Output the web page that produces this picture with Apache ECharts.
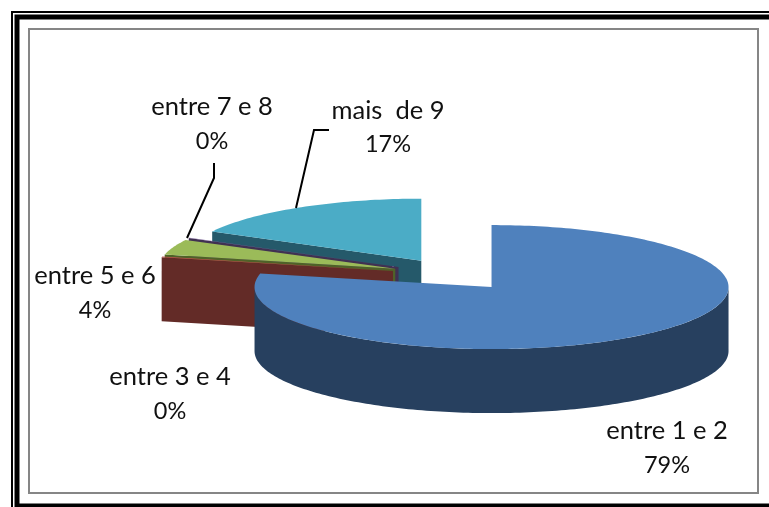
<!DOCTYPE html>
<html>
<head>
<meta charset="utf-8">
<title>pie</title>
<style>
  html, body { margin: 0; padding: 0; background: #fff; }
  #chart { width: 769px; height: 507px; }
</style>
<script src="https://cdn.jsdelivr.net/npm/echarts@6/dist/echarts.min.js"></script>
</head>
<body>
<div id="chart"></div>
<script>
// values
var categories = ['entre 1 e 2', 'entre 3 e 4', 'entre 5 e 6', 'entre 7 e 8', 'mais  de 9'];
var values = [78.5, 0.2, 4, 0.1, 17.2];

var topColors = ['#4f81bd', '#c0504d', '#9bbb59', '#8064a2', '#4bacc6'];
var sideColors = ['#27405f', '#632b27', '#4f6228', '#403152', '#25596a'];

// label centres, x then the y of each of the two lines
var labelX = [667, 170, 95, 212, 388];
var labelY1 = [431, 377, 276, 107, 111];
var labelY2 = [465, 411, 310, 141, 144];

// pie geometry
var cx = 453, cy = 274.5, rx = 237, ry = 62, depth = 64, explode = 0.26;

var total = 0;
for (var i = 0; i < values.length; i++) total += values[i];

function pt(c, t, dy) {
  return [c[0] + rx * Math.sin(t), c[1] - ry * Math.cos(t) + (dy || 0)];
}

function arc(c, a, b, dy) {
  var pts = [], n = Math.max(2, Math.ceil((b - a) / 0.02));
  for (var k = 0; k <= n; k++) pts.push(pt(c, a + (b - a) * k / n, dy));
  return pts;
}

function wall(pts, color, z) {
  return { type: 'polygon', z2: z, shape: { points: pts }, style: { fill: color } };
}

function renderSlice(params, api) {
  var idx = params.dataIndex, before = 0;
  for (var j = 0; j < idx; j++) before += values[j];
  var a = before / total * Math.PI * 2;
  var b = a + api.value(0) / total * Math.PI * 2;
  var mid = (a + b) / 2;
  var c = [cx + explode * rx * Math.sin(mid), cy - explode * ry * Math.cos(mid)];
  var z = (values.length - idx) * 10;
  var side = sideColors[idx];
  var children = [];

  // radial wall facing the viewer
  if (a > Math.PI && a < Math.PI * 2) {
    children.push(wall([c, pt(c, a), pt(c, a, depth), [c[0], c[1] + depth]], side, z));
  }
  if (b > 0 && b < Math.PI) {
    children.push(wall([c, pt(c, b), pt(c, b, depth), [c[0], c[1] + depth]], side, z));
  }
  // outer wall, front half only
  var from = Math.max(a, Math.PI / 2), to = Math.min(b, Math.PI * 1.5);
  if (to > from) {
    children.push(wall(arc(c, from, to, 0).concat(arc(c, from, to, depth).reverse()), side, z + 1));
  }
  // top
  children.push(wall([c].concat(arc(c, a, b, 0)), topColors[idx], z + 2));

  return { type: 'group', children: children };
}

var graphics = [
  // frame
  { type: 'rect', shape: { x: 12, y: 12, width: 780, height: 520 }, style: { fill: 'none', stroke: '#000', lineWidth: 2 } },
  { type: 'rect', shape: { x: 17, y: 17, width: 780, height: 489 }, style: { fill: 'none', stroke: '#000', lineWidth: 5 } },
  { type: 'rect', shape: { x: 29, y: 29, width: 729, height: 464 }, style: { fill: 'none', stroke: '#868686', lineWidth: 2 } },
  // leader lines
  { type: 'polyline', z: 5, shape: { points: [[329, 130], [314, 130], [296, 208]] }, style: { fill: 'none', stroke: '#000', lineWidth: 2 } },
  { type: 'polyline', z: 5, shape: { points: [[214, 163], [214, 178], [187, 238]] }, style: { fill: 'none', stroke: '#000', lineWidth: 2 } }
];

categories.forEach(function (name, i) {
  graphics.push({ type: 'text', z: 5, x: labelX[i], y: labelY1[i],
    style: { text: name, textAlign: 'center', textVerticalAlign: 'middle', fill: '#111', font: '25.5px Lato' } });
  graphics.push({ type: 'text', z: 5, x: labelX[i], y: labelY2[i],
    style: { text: Math.round(values[i]) + '%', textAlign: 'center', textVerticalAlign: 'middle', fill: '#111', font: '23.5px Lato' } });
});

var chart = echarts.init(document.getElementById('chart'));
chart.setOption({
  animation: false,
  backgroundColor: '#fff',
  graphic: graphics,
  series: [{
    type: 'custom',
    coordinateSystem: 'none',
    silent: true,
    renderItem: renderSlice,
    data: values
  }]
});
</script>
</body>
</html>
